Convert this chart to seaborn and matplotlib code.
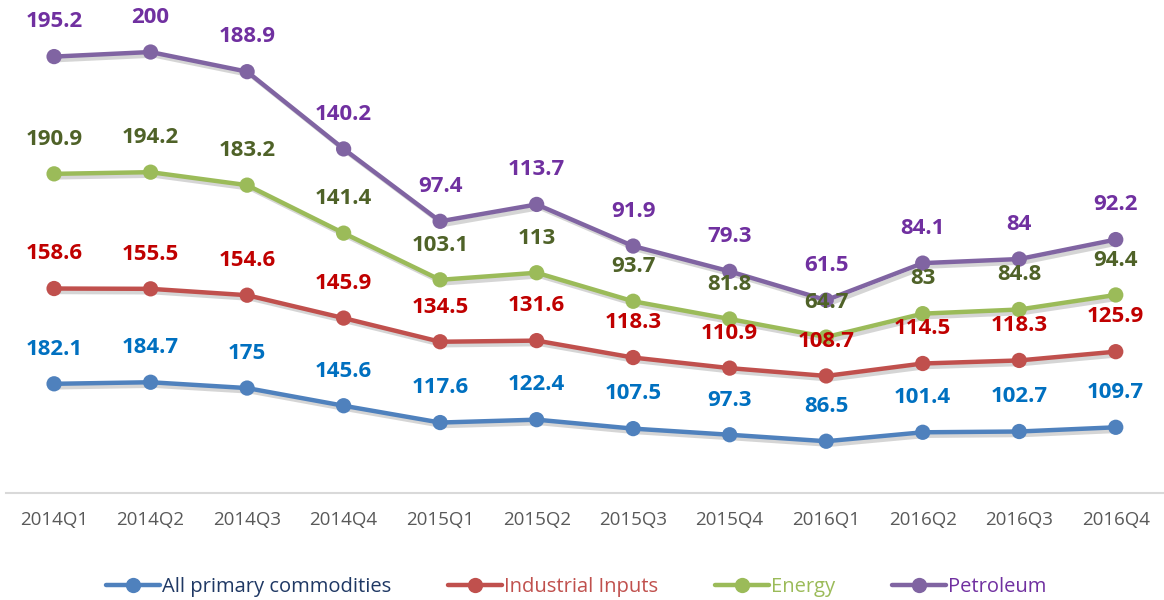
import numpy as np
import pandas as pd
import matplotlib
matplotlib.use("Agg")
import matplotlib.pyplot as plt
import matplotlib.patheffects as pe
from matplotlib.lines import Line2D
import seaborn as sns

quarters = ["2014Q1", "2014Q2", "2014Q3", "2014Q4", "2015Q1", "2015Q2",
            "2015Q3", "2015Q4", "2016Q1", "2016Q2", "2016Q3", "2016Q4"]
all_primary = [182.1, 184.7, 175, 145.6, 117.6, 122.4, 107.5, 97.3, 86.5, 101.4, 102.7, 109.7]
industrial = [158.6, 155.5, 154.6, 145.9, 134.5, 131.6, 118.3, 110.9, 108.7, 114.5, 118.3, 125.9]
energy = [190.9, 194.2, 183.2, 141.4, 103.1, 113, 93.7, 81.8, 64.7, 83, 84.8, 94.4]
petroleum = [195.2, 200, 188.9, 140.2, 97.4, 113.7, 91.9, 79.3, 61.5, 84.1, 84, 92.2]

series_names = ["All primary commodities", "Industrial Inputs", "Energy", "Petroleum"]
series_vals = [all_primary, industrial, energy, petroleum]
line_colors = ["#4F81BD", "#C0504D", "#9BBB59", "#8064A2"]
label_colors = ["#0070C0", "#C00000", "#4F6228", "#7030A0"]
legend_text_colors = ["#1F3864", "#C0504D", "#9BBB59", "#7030A0"]

# stacked line chart: cumulative sums
cum = np.cumsum(np.array(series_vals, dtype=float), axis=0)
rows = []
for name, raw, c in zip(series_names, series_vals, cum):
    for q, v, cv in zip(quarters, raw, c):
        rows.append({"Quarter": q, "Series": name, "Value": v, "Stacked": cv})
df = pd.DataFrame(rows)

sns.set_theme(style="white")
plt.rcParams["font.family"] = ["Open Sans", "DejaVu Sans"]

fig = plt.figure(figsize=(11.64, 6.0), dpi=100)
ax = fig.add_axes([0.005, 0.178, 0.995, 0.822])

sns.lineplot(data=df, x="Quarter", y="Stacked", hue="Series", hue_order=series_names,
             palette=line_colors, marker="o", markersize=11, linewidth=3.2,
             markeredgewidth=0, sort=False, ax=ax, legend=False)

for line in ax.get_lines():
    line.set_path_effects([pe.SimpleLineShadow(offset=(2.5, -2.5), alpha=0.18, rho=0.2),
                           pe.Normal()])

xpos = {q: i for i, q in enumerate(quarters)}
for name, lc in zip(series_names, label_colors):
    sub = df[df["Series"] == name]
    for _, r in sub.iterrows():
        v = r["Value"]
        txt = f"{v:g}"
        ax.annotate(txt, (xpos[r["Quarter"]], r["Stacked"]), xytext=(0, 25),
                    textcoords="offset points", ha="center", va="center",
                    fontsize=16, fontweight="bold", color=lc)

ax.set_xlim(-0.5, len(quarters) - 0.5)
ax.set_ylim(0, 821)
ax.set_yticks([])
ax.set_xlabel("")
ax.set_ylabel("")
for s in ["top", "right", "left"]:
    ax.spines[s].set_visible(False)
ax.spines["bottom"].set_color("#D9D9D9")
ax.spines["bottom"].set_linewidth(1.5)
ax.tick_params(axis="x", length=0, pad=13, labelsize=13.5, labelcolor="#595959")

handles = [Line2D([0], [0], color=c, lw=3.2, marker="o", markersize=11, markeredgewidth=0)
           for c in line_colors]
leg = fig.legend(handles, series_names, loc="center", bbox_to_anchor=(0.495, 0.022),
                 ncol=4, frameon=False, fontsize=14.5, handlelength=2.7,
                 handletextpad=0.1, columnspacing=2.8)
for t, c in zip(leg.get_texts(), legend_text_colors):
    t.set_color(c)

fig.savefig("out.png", dpi=100)
